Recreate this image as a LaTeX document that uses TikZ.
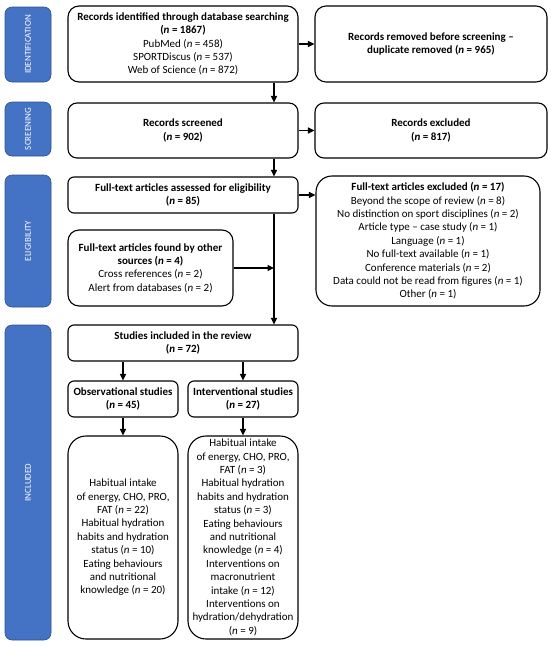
\documentclass[tikz,border=0pt]{standalone}
\usepackage{fontspec}
\setmainfont{Carlito}
\usetikzlibrary{arrows.meta}
\definecolor{barblue}{HTML}{4472C4}
\definecolor{baredge}{HTML}{2F528F}
\newcommand{\nv}{\textit{n}}
\begin{document}
\begin{tikzpicture}[x=1pt,y=-1pt,
  box/.style={draw=black,line width=1.1pt,fill=white,align=center,inner sep=2pt,
    font=\fontsize{11}{13.4}\selectfont},
  bar/.style={fill=barblue,draw=baredge,line width=0.6pt,rounded corners=7pt,text=white,rotate=90,
    font=\fontsize{9}{10}\selectfont,inner sep=0pt},
  arr/.style={line width=1.1pt,-{Triangle[length=6.5pt,width=6pt]}}]
\useasboundingbox (0,0) rectangle (550,646);
% side bars
\node[bar,minimum width=75pt,minimum height=46pt] (b1) at (28,44.5) {IDENTIFICATION};
\node[bar,minimum width=54pt,minimum height=46pt] (b2) at (28,129) {SCREENING};
\node[bar,minimum width=132pt,minimum height=46pt] (b3) at (28,241) {ELIGIBILITY};
\node[bar,minimum width=315pt,minimum height=46pt] (b4) at (28,482.5) {INCLUDED};
% boxes
\node[box,rounded corners=11pt,minimum width=230pt,minimum height=76pt] (r1) at (183,44)
 {\textbf{Records identified through database searching}\\\textbf{(\nv{} = 1867)}\\PubMed (\nv{} = 458)\\SPORTDiscus (\nv{} = 537)\\Web of Science (\nv{} = 872)};
\node[box,rounded corners=11pt,minimum width=232pt,minimum height=76pt] (r2) at (431,44)
 {\textbf{Records removed before screening –}\\\textbf{duplicate removed (\nv{} = 965)}};
\node[box,rounded corners=9pt,minimum width=230pt,minimum height=55pt] (r3) at (183,130.5)
 {\textbf{Records screened}\\\textbf{(\nv{} = 902)}};
\node[box,rounded corners=9pt,minimum width=232pt,minimum height=55pt] (r4) at (431,130.5)
 {\textbf{Records excluded}\\\textbf{(\nv{} = 817)}};
\node[box,rounded corners=6pt,minimum width=230pt,minimum height=36pt] (r5) at (183,195)
 {\textbf{Full-text articles assessed for eligibility}\\\textbf{(\nv{} = 85)}};
\node[box,rounded corners=16pt,minimum width=224pt,minimum height=130pt] (r6) at (428,241)
 {\textbf{Full-text articles excluded (\nv{} = 17)}\\Beyond the scope of review (\nv{} = 8)\\No distinction on sport disciplines (\nv{} = 2)\\Article type – case study (\nv{} = 1)\\Language (\nv{} = 1)\\No full-text available (\nv{} = 1)\\Conference materials (\nv{} = 2)\\Data could not be read from figures (\nv{} = 1)\\Other (\nv{} = 1)};
\node[box,rounded corners=11pt,minimum width=165pt,minimum height=76pt] (r7) at (150.5,268)
 {\textbf{Full-text articles found by other}\\\textbf{sources (\nv{} = 4)}\\Cross references (\nv{} = 2)\\Alert from databases (\nv{} = 2)};
\node[box,rounded corners=6pt,minimum width=230pt,minimum height=36pt] (r8) at (183,343)
 {\textbf{Studies included in the review}\\\textbf{(\nv{} = 72)}};
\node[box,rounded corners=6pt,minimum width=110pt,minimum height=36pt] (r9) at (123,399)
 {\textbf{Observational studies}\\\textbf{(\nv{} = 45)}};
\node[box,rounded corners=6pt,minimum width=110pt,minimum height=36pt] (r10) at (243,399)
 {\textbf{Interventional studies}\\\textbf{(\nv{} = 27)}};
\node[box,rounded corners=18pt,minimum width=110pt,minimum height=203pt] (r11) at (123,537.5)
 {Habitual intake\\of energy, CHO, PRO,\\FAT (\nv{} = 22)\\Habitual hydration\\habits and hydration\\status (\nv{} = 10)\\Eating behaviours\\and nutritional\\knowledge (\nv{} = 20)};
\node[box,rounded corners=18pt,minimum width=110pt,minimum height=203pt] (r12) at (243,537.5)
 {Habitual intake\\of energy, CHO, PRO,\\FAT (\nv{} = 3)\\Habitual hydration\\habits and hydration\\status (\nv{} = 3)\\Eating behaviours\\and nutritional\\knowledge (\nv{} = 4)\\Interventions on\\macronutrient\\intake (\nv{} = 12)\\Interventions on\\hydration/dehydration\\(\nv{} = 9)};
% connectors
\coordinate (j) at (274,268);
\draw[arr] (r1.east) -- (r2.west);
\draw[arr] (r3.east) -- (r4.west);
\draw[arr] (r5.east) -- (r6.west |- r5.east);
\draw[arr] (r1.south -| j) -- (r3.north -| j);
\draw[arr] (r3.south -| j) -- (r5.north -| j);
\draw[arr] (r5.south -| j) -- (r8.north -| j);
\draw[arr] (r7.east) -- (j);
\draw[arr] (r8.south -| r9) -- (r9.north);
\draw[arr] (r8.south -| r10) -- (r10.north);
\draw[arr] (r9.south) -- (r11.north);
\draw[arr] (r10.south) -- (r12.north);
\end{tikzpicture}
\end{document}
